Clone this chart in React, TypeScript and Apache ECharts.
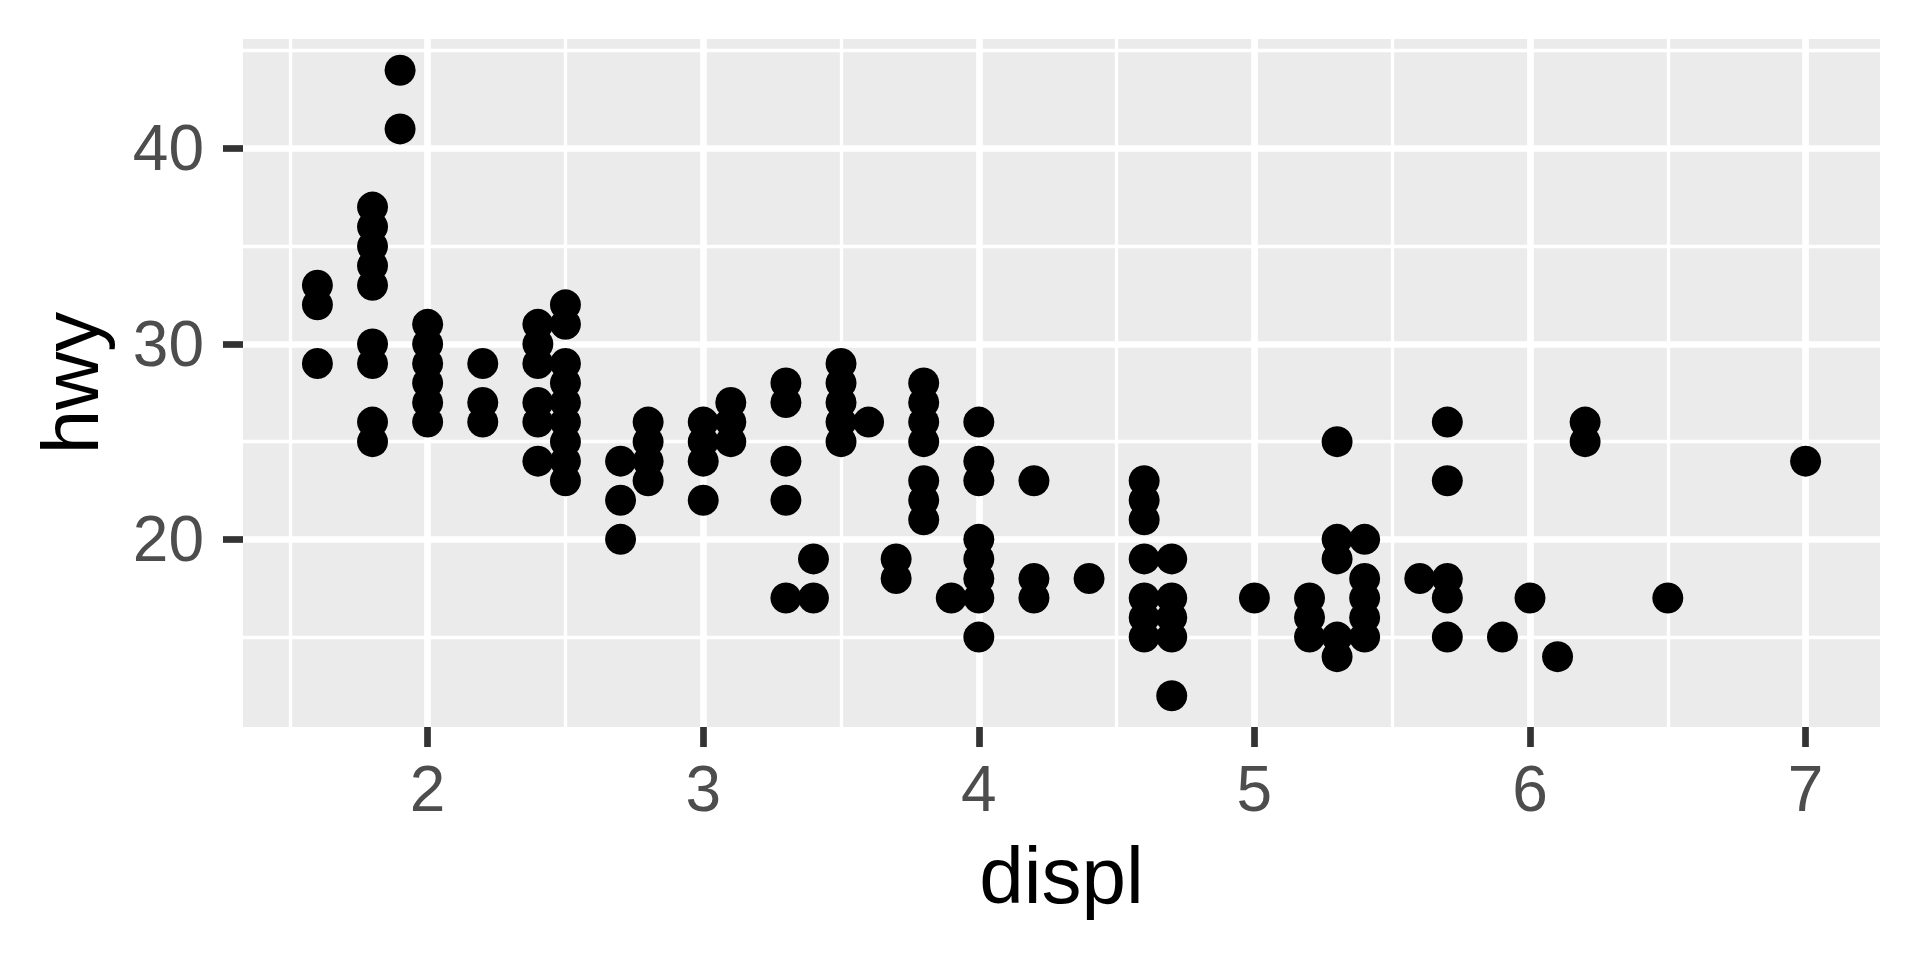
import React, { useEffect, useRef } from "react";
import * as echarts from "echarts";

// engine displacement values (x) and highway mpg values observed at each displacement
const displValues = [1.6, 1.8, 1.9, 2.0, 2.2, 2.4, 2.5, 2.7, 2.8, 3.0, 3.1, 3.3, 3.4, 3.5, 3.6, 3.7, 3.8, 3.9, 4.0, 4.2, 4.4, 4.6, 4.7, 5.0, 5.2, 5.3, 5.4, 5.6, 5.7, 5.9, 6.0, 6.1, 6.2, 6.5, 7.0];
const hwyValues = [
  [33, 32, 29],
  [37, 36, 35, 34, 33, 30, 29, 26, 25],
  [44, 41],
  [31, 30, 29, 28, 27, 26],
  [29, 27, 26],
  [31, 30, 29, 27, 26, 24],
  [32, 31, 29, 28, 27, 26, 25, 24, 23],
  [24, 22, 20],
  [26, 25, 24, 23],
  [26, 25, 24, 22],
  [27, 26, 25],
  [28, 27, 24, 22, 17],
  [19, 17],
  [29, 28, 27, 26, 25],
  [26],
  [19, 18],
  [28, 27, 26, 25, 23, 22, 21],
  [17],
  [26, 24, 23, 20, 19, 18, 17, 15],
  [23, 18, 17],
  [18],
  [23, 22, 21, 19, 17, 16, 15],
  [19, 17, 16, 15, 12],
  [17],
  [17, 16, 15],
  [25, 20, 19, 15, 14],
  [20, 18, 17, 16, 15],
  [18],
  [26, 23, 18, 17, 15],
  [15],
  [17],
  [14],
  [26, 25],
  [17],
  [24],
];

const xMajorTicks = [2, 3, 4, 5, 6, 7];
const xMinorTicks = [1.5, 2.5, 3.5, 4.5, 5.5, 6.5];
const yMajorTicks = [20, 30, 40];
const yMinorTicks = [15, 25, 35, 45];
const xRange = [1.33, 7.27];
const yRange = [10.4, 45.6];

export default function App() {
  const ref = useRef<HTMLDivElement>(null);
  useEffect(() => {
    if (!ref.current) return;
    const chart = echarts.init(ref.current, null, { renderer: "svg" });
    const points: number[][] = [];
    displValues.forEach((d, i) => hwyValues[i].forEach((h) => points.push([d, h])));

    const MAJOR = 6.7;
    const MINOR = 3.3;
    const gridLines: any[] = [];
    xMinorTicks.forEach((v) => gridLines.push({ xAxis: v, lineStyle: { width: MINOR, color: "#ffffff", type: "solid" } }));
    yMinorTicks.forEach((v) => gridLines.push({ yAxis: v, lineStyle: { width: MINOR, color: "#ffffff", type: "solid" } }));
    xMajorTicks.forEach((v) => gridLines.push({ xAxis: v, lineStyle: { width: MAJOR, color: "#ffffff", type: "solid" } }));
    yMajorTicks.forEach((v) => gridLines.push({ yAxis: v, lineStyle: { width: MAJOR, color: "#ffffff", type: "solid" } }));

    const font = "'Liberation Sans', Arial, Helvetica, sans-serif";
    chart.setOption({
      animation: false,
      backgroundColor: "#ffffff",
      grid: {
        left: 243,
        right: 40,
        top: 39,
        bottom: 233,
        show: true,
        backgroundColor: "#EBEBEB",
        borderWidth: 0,
        outerBoundsMode: "none",
      },
      xAxis: {
        type: "value",
        min: xRange[0],
        max: xRange[1],
        name: "displ",
        nameLocation: "middle",
        nameGap: 108,
        nameTextStyle: { fontFamily: font, fontSize: 80, color: "#000000" },
        axisLine: { show: false },
        axisTick: { show: true, customValues: xMajorTicks, length: 20, lineStyle: { color: "#333333", width: 6.7 } },
        axisLabel: { show: true, customValues: xMajorTicks, margin: 30, fontFamily: font, fontSize: 64, color: "#4D4D4D", formatter: (v: number) => String(v) },
        splitLine: { show: false },
      },
      yAxis: {
        type: "value",
        min: yRange[0],
        max: yRange[1],
        name: "hwy",
        nameLocation: "middle",
        nameGap: 133,
        nameRotate: 90,
        nameTextStyle: { fontFamily: font, fontSize: 80, color: "#000000" },
        axisLine: { show: false },
        axisTick: { show: true, customValues: yMajorTicks, length: 20, lineStyle: { color: "#333333", width: 6.7 } },
        axisLabel: { show: true, customValues: yMajorTicks, margin: 39, fontFamily: font, fontSize: 64, color: "#4D4D4D", formatter: (v: number) => String(v) },
        splitLine: { show: false },
      },
      series: [
        {
          type: "line",
          data: [],
          silent: true,
          z: 1,
          markLine: {
            silent: true,
            symbol: ["none", "none"],
            label: { show: false },
            emphasis: { disabled: true },
            animation: false,
            z: 1,
            data: gridLines,
          },
        },
        {
          type: "scatter",
          data: points,
          symbol: "circle",
          symbolSize: 31,
          itemStyle: { color: "#000000", opacity: 1 },
          z: 10,
          silent: true,
        },
      ],
    });
    return () => chart.dispose();
  }, []);
  return <div ref={ref} style={{ position: "absolute", left: 0, top: 0, width: 1920, height: 960 }} />;
}
